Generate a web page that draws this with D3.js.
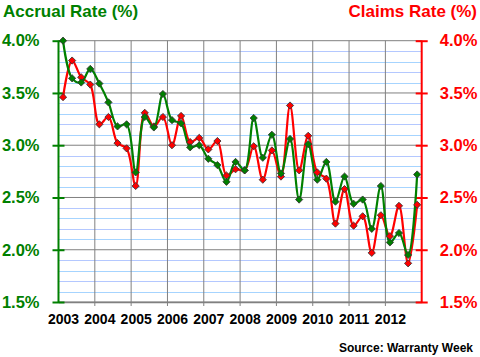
<!DOCTYPE html>
<html><head><meta charset="utf-8">
<script src="https://cdn.jsdelivr.net/npm/d3@7"></script>
<style>
body{margin:0;background:#fff;}
svg{display:block;font-family:Arial,"Liberation Sans",sans-serif;}
</style></head>
<body><svg id="c" width="480" height="357"></svg>
<script>
const years = ["2003","2004","2005","2006","2007","2008","2009","2010","2011","2012"];
const accrual = [4.00,3.64,3.60,3.73,3.59,3.41,3.18,3.20,2.74,3.27,3.17,3.49,3.24,3.21,2.98,3.00,2.87,2.81,2.65,2.84,2.76,3.26,2.88,3.10,2.73,3.06,2.48,3.01,2.67,2.84,2.46,2.70,2.44,2.48,2.20,2.61,2.07,2.16,1.95,2.72];
const claims = [3.46,3.81,3.65,3.58,3.20,3.27,3.02,2.97,2.61,3.31,3.18,3.27,3.00,3.28,3.03,3.07,2.96,3.04,2.71,2.77,2.76,2.99,2.67,2.95,2.70,3.38,2.76,3.09,2.74,2.68,2.25,2.58,2.23,2.32,1.97,2.33,2.13,2.42,1.87,2.43];
const yTicks = [1.5,2.0,2.5,3.0,3.5,4.0];

const GREEN="#008000", RED="#ff0000";
const svg = d3.select("#c");
const L=58.5, R=421.7, T=40.7, B=302;
const x = d3.scaleLinear().domain([0,40]).range([L,R]);
const y = d3.scaleLinear().domain([1.5,4.0]).range([B,T]);

// minor grid
const minor = d3.range(15,41).map(v=>v/10).filter(v=>Math.abs(v*2-Math.round(v*2))>1e-6);
svg.append("g").selectAll("line").data(minor).join("line")
  .attr("x1",L).attr("x2",R).attr("y1",d=>Math.round(y(d))+0.5).attr("y2",d=>Math.round(y(d))+0.5)
  .attr("stroke",(d,i)=>i%2?"#b4c8ff":"#a6d4ff").attr("stroke-width",1);
// major horizontal grid
svg.append("g").selectAll("line").data(yTicks).join("line")
  .attr("x1",L).attr("x2",R).attr("y1",d=>y(d)).attr("y2",d=>y(d))
  .attr("stroke","#808080").attr("stroke-width",1);
// vertical grid
svg.append("g").selectAll("line").data(d3.range(1,10).map(i=>i*4)).join("line")
  .attr("x1",d=>x(d)).attr("x2",d=>x(d)).attr("y1",T).attr("y2",B+4)
  .attr("stroke","#808080").attr("stroke-width",1);

// x axis labels
const xa = svg.append("g").attr("transform",`translate(0,${B})`)
  .call(d3.axisBottom(x).tickValues(years.map((d,i)=>i*4+0.5)).tickSize(0).tickFormat((d,i)=>years[i]));
xa.select(".domain").attr("stroke","#808080").attr("stroke-width",1.5);
xa.selectAll("text").attr("y",21.5).attr("dy",0).attr("font-size",14).attr("font-weight","bold").attr("fill","#000")
  .attr("font-family",'Arial,"Liberation Sans",sans-serif');

// left axis
const la = svg.append("g").attr("transform",`translate(${L},0)`)
  .call(d3.axisLeft(y).tickValues(yTicks).tickSize(6).tickPadding(13).tickFormat(d=>d.toFixed(1)+"%"));
la.select(".domain").attr("stroke",GREEN).attr("stroke-width",2).attr("d",`M0,${T}V${B}`);
la.selectAll(".tick line").attr("stroke",GREEN).attr("stroke-width",2).attr("x1",-6).attr("x2",6);
la.selectAll("text").attr("fill",GREEN).attr("font-size",16.5).attr("font-weight","bold")
  .attr("font-family",'Arial,"Liberation Sans",sans-serif');

// right axis
const ra = svg.append("g").attr("transform",`translate(${R},0)`)
  .call(d3.axisRight(y).tickValues(yTicks).tickSize(6).tickPadding(12).tickFormat(d=>d.toFixed(1)+"%"));
ra.select(".domain").attr("stroke",RED).attr("stroke-width",2).attr("d",`M0,${T}V${B}`);
ra.selectAll(".tick line").attr("stroke",RED).attr("stroke-width",2).attr("x1",-6).attr("x2",6);
ra.selectAll("text").attr("fill",RED).attr("font-size",16.5).attr("font-weight","bold")
  .attr("font-family",'Arial,"Liberation Sans",sans-serif');

// lines
const line = d3.line().x((d,i)=>x(i+0.5)).y(d=>y(d)).curve(d3.curveCatmullRom.alpha(0.5));
svg.append("path").datum(claims).attr("d",line).attr("fill","none").attr("stroke",RED).attr("stroke-width",2.2);
svg.append("path").datum(accrual).attr("d",line).attr("fill","none").attr("stroke",GREEN).attr("stroke-width",2.2);

function markers(data,color){
  svg.append("g").selectAll("path").data(data).join("path")
    .attr("d",d3.symbol().type(d3.symbolSquare).size(26))
    .attr("transform",(d,i)=>`translate(${x(i+0.5)},${y(d)}) rotate(45)`)
    .attr("fill",color).attr("stroke","#333").attr("stroke-width",0.8);
}
markers(claims,RED);
markers(accrual,GREEN);

// titles
svg.append("text").attr("x",3).attr("y",17).text("Accrual Rate (%)")
  .attr("fill",GREEN).attr("font-size",17).attr("font-weight","bold");
svg.append("text").attr("x",477).attr("y",17).attr("text-anchor","end").text("Claims Rate (%)")
  .attr("fill",RED).attr("font-size",17).attr("font-weight","bold");
svg.append("text").attr("x",473).attr("y",352).attr("text-anchor","end").text("Source: Warranty Week")
  .attr("fill","#000").attr("font-size",12).attr("font-weight","bold");
</script></body></html>
